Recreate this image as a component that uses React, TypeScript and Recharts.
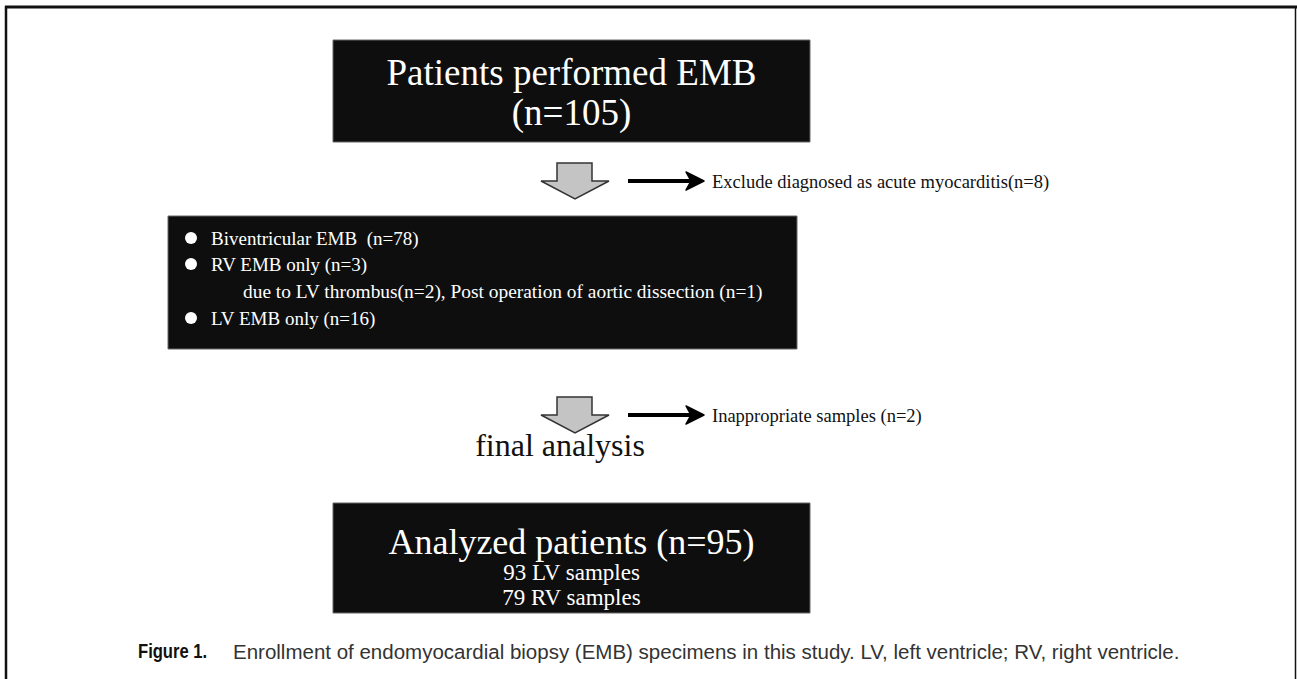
import { ComposedChart, XAxis, YAxis, Scatter, ReferenceArea, ReferenceLine } from 'recharts';

document.body.style.margin = '0';

// flowchart content
const topBoxLines = ['Patients performed EMB', '(n=105)'];
const bulletLines = ['Biventricular EMB \u00a0(n=78)', 'RV EMB only (n=3)', 'LV EMB only (n=16)'];
const subNote = 'due to LV thrombus(n=2), Post operation of aortic dissection (n=1)';
const exclusionNotes = ['Exclude diagnosed as acute myocarditis(n=8)', 'Inappropriate samples (n=2)'];
const finalLabel = 'final analysis';
const resultLines = ['Analyzed patients (n=95)', '93 LV samples', '79 RV samples'];
const captionLead = 'Figure 1.';
const captionText =
  'Enrollment of endomyocardial biopsy (EMB) specimens in this study. LV, left ventricle; RV, right ventricle.';

const W = 1297;
const H = 679;
const SERIF = '"Liberation Serif", "Times New Roman", serif';
const SANS = '"Liberation Sans", Arial, sans-serif';

// layout (chart units = pixels, y grows downwards)
const boxes = [
  { x1: 333, x2: 810, y1: 40, y2: 142 },
  { x1: 168, x2: 797, y1: 216, y2: 349 },
  { x1: 333, x2: 810, y1: 503, y2: 613 },
];
const stepY = [181, 415];
const bulletRowY = [238, 264, 318];

type TextNode = {
  x: number;
  y: number;
  text: string;
  size: number;
  fill: string;
  anchor: 'start' | 'middle';
  family: string;
  weight?: number;
  squeeze?: number;
};

const textNodes: TextNode[] = [
  ...topBoxLines.map((t, i) => ({
    x: 571.5, y: 72 + i * 40, text: t, size: 37, fill: '#fff', anchor: 'middle' as const, family: SERIF,
  })),
  ...bulletLines.map((t, i) => ({
    x: 211, y: bulletRowY[i], text: t, size: 19, fill: '#fff', anchor: 'start' as const, family: SERIF,
  })),
  { x: 243, y: 291, text: subNote, size: 19.4, fill: '#fff', anchor: 'start', family: SERIF },
  ...exclusionNotes.map((t, i) => ({
    x: 712, y: stepY[i] + 1, text: t, size: 18.5, fill: '#111', anchor: 'start' as const, family: SERIF,
  })),
  { x: 560, y: 445, text: finalLabel, size: 32, fill: '#111', anchor: 'middle', family: SERIF },
  ...resultLines.map((t, i) => ({
    x: 571.5,
    y: i === 0 ? 542 : 548 + i * 24.5,
    text: t,
    size: i === 0 ? 36 : 23,
    fill: '#fff',
    anchor: 'middle' as const,
    family: SERIF,
  })),
  { x: 138, y: 651, text: captionLead, size: 20, fill: '#111', anchor: 'start', family: SANS, weight: 700, squeeze: 0.83 },
  { x: 233, y: 651, text: captionText, size: 20.5, fill: '#333', anchor: 'start', family: SANS },
];

const bullets = bulletRowY.map((y) => ({ x: 191, y }));
const grayArrows = stepY.map((y) => ({ x: 575, y }));
const blackArrows = stepY.map((y) => ({ x: 628, y }));

const TextShape = (props: any) => {
  const p = props.payload as TextNode;
  return (
    <text
      x={0}
      y={0}
      transform={`translate(${props.cx},${props.cy}) scale(${p.squeeze ?? 1},1)`}
      textAnchor={p.anchor}
      dominantBaseline="central"
      fontFamily={p.family}
      fontSize={p.size}
      fontWeight={p.weight ?? 400}
      fill={p.fill}
    >
      {p.text}
    </text>
  );
};

const BulletShape = (props: any) => <circle cx={props.cx} cy={props.cy} r={6} fill="#fff" />;

const GrayArrowShape = (props: any) => {
  const { cx, cy } = props;
  const pts = [
    [cx - 18, cy - 18],
    [cx + 17, cy - 18],
    [cx + 17, cy],
    [cx + 34, cy],
    [cx, cy + 18],
    [cx - 34, cy],
    [cx - 18, cy],
  ]
    .map((p) => p.join(','))
    .join(' ');
  return <polygon points={pts} fill="#c4c4c4" stroke="#333" strokeWidth={1.5} strokeLinejoin="miter" />;
};

const BlackArrowShape = (props: any) => {
  const { cx, cy } = props;
  return (
    <g>
      <line x1={cx} y1={cy} x2={cx + 64} y2={cy} stroke="#000" strokeWidth={4} />
      <path
        d={`M ${cx + 76} ${cy} L ${cx + 58} ${cy - 9} L ${cx + 63} ${cy} L ${cx + 58} ${cy + 9} Z`}
        fill="#000"
        stroke="#000"
        strokeWidth={1.5}
        strokeLinejoin="round"
      />
    </g>
  );
};

export default function App() {
  return (
    <div style={{ width: W, height: H, background: '#fff' }}>
      <ComposedChart width={W} height={H} margin={{ top: 0, right: 0, bottom: 0, left: 0 }}>
        <XAxis type="number" dataKey="x" domain={[0, W]} hide allowDataOverflow />
        <YAxis type="number" dataKey="y" domain={[0, H]} reversed hide allowDataOverflow />

        {boxes.map((b, i) => (
          <ReferenceArea
            key={i}
            x1={b.x1}
            x2={b.x2}
            y1={b.y1}
            y2={b.y2}
            fill="#0e0e0e"
            fillOpacity={1}
            stroke="#666"
            strokeWidth={1}
          />
        ))}

        <ReferenceLine segment={[{ x: 5, y: 7 }, { x: W, y: 7 }]} stroke="#111" strokeWidth={3} />
        <ReferenceLine segment={[{ x: 6, y: 6 }, { x: 6, y: H }]} stroke="#111" strokeWidth={2.5} />
        <ReferenceLine segment={[{ x: 1295.5, y: 7 }, { x: 1295.5, y: H }]} stroke="#111" strokeWidth={1.5} />

        <Scatter data={grayArrows} shape={GrayArrowShape} isAnimationActive={false} />
        <Scatter data={blackArrows} shape={BlackArrowShape} isAnimationActive={false} />
        <Scatter data={bullets} shape={BulletShape} isAnimationActive={false} />
        <Scatter data={textNodes} shape={TextShape} isAnimationActive={false} />
      </ComposedChart>
    </div>
  );
}
